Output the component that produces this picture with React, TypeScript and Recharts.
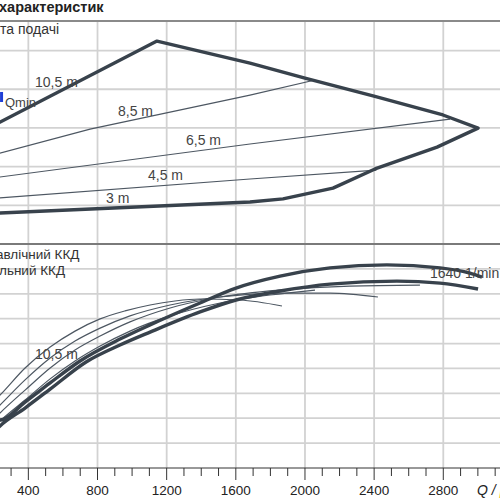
import React from 'react';
import { LineChart, Line, XAxis, YAxis, CartesianGrid } from 'recharts';

// ---------- axes ----------
const Q_DOMAIN: [number, number] = [236, 3128];
const Q_GRID = [400, 800, 1200, 1600, 2000, 2400, 2800];
const Q_TICKS = [300, 400, 500, 600, 700, 800, 900, 1000, 1100, 1200, 1300, 1400, 1500, 1600, 1700, 1800, 1900, 2000, 2100, 2200, 2300, 2400, 2500, 2600, 2700, 2800, 2900, 3000, 3100];
const H_DOMAIN: [number, number] = [0, 11.58];
const H_GRID = [2, 4, 6, 8, 10];
const ETA_DOMAIN: [number, number] = [0, 90];
const ETA_GRID = [10, 20, 30, 40, 50, 60, 70, 80];

// ---------- upper: operating range (Q, H) ----------
const rangeEnvelope: [number, number][] = [
  [207, 6.17], [1144, 10.49], [1682, 9.35], [2000, 8.58], [2399, 7.65], [2798, 6.67], [3001, 5.99],
  [2764, 5.01], [2405, 3.88], [2162, 2.89], [1873, 2.33], [1682, 2.17], [959, 1.89], [207, 1.59],
];
const line85: [number, number][] = [[207, 4.63], [757, 5.94], [1682, 7.7], [2058, 8.48]];
const line65: [number, number][] = [[207, 3.43], [1682, 5.17], [2839, 6.46]];
const line45: [number, number][] = [[207, 2.36], [1682, 3.36], [2413, 3.82]];
const qminMark: [number, number][] = [[245, 7.86], [245, 7.34]];

// ---------- lower: efficiency (Q, %) ----------
const etaHydraulic: [number, number][] = [
  [207, 21.3], [236, 19.3], [381, 26.5], [526, 34.2], [699, 43.0], [930, 51.8], [1104, 57.5], [1393, 66.3], [1601, 72.3],
  [1856, 77.1], [2145, 80.4], [2474, 81.6], [2781, 80.4], [2954, 78.3], [3024, 76.7],
];
const etaTotal: [number, number][] = [
  [207, 14.9], [236, 16.9], [381, 24.1], [526, 31.7], [734, 42.6], [930, 49.4], [1104, 54.6], [1393, 62.7], [1601, 67.5],
  [1856, 71.1], [2145, 73.9], [2532, 75.1], [2781, 74.3], [3001, 71.9],
];
const etaT1: [number, number][] = [
  [207, 27.3], [236, 29.3], [381, 40.2], [526, 48.6], [670, 55.0], [815, 59.9], [959, 63.1], [1104, 65.5],
  [1248, 67.1], [1393, 67.9], [1624, 67.5], [1867, 65.1],
];
const etaT2: [number, number][] = [
  [207, 23.3], [236, 25.3], [381, 35.4], [526, 44.2], [670, 51.0], [815, 56.2], [988, 61.1], [1220, 65.5],
  [1509, 68.7], [1856, 70.3], [2145, 70.3], [2422, 68.7],
];
const etaT3: [number, number][] = [
  [207, 20.1], [236, 22.1], [381, 31.3], [526, 40.2], [670, 47.4], [815, 53.0], [988, 58.7], [1220, 64.3],
  [1509, 68.7], [1856, 71.5], [2260, 73.1], [2665, 73.5],
];
const etaT4: [number, number][] = [
  [207, 17.0], [236, 18.9], [381, 27.3], [526, 35.8], [670, 43.0], [815, 49.0], [988, 55.0], [1220, 61.1],
  [1509, 66.3], [1798, 69.5], [2058, 71.5],
];

const toData = (pts: [number, number][]) => pts.map(([q, v]) => ({ q, v }));

const THICK = '#38424c';
const THIN = '#4d5762';
const GRID = '#d2d2d2';
const FONT = '"Liberation Sans", Arial, sans-serif';

const XTick = (props: any) => {
  const { x, y, payload } = props;
  const v = payload.value as number;
  const major = v % 400 === 0;
  return (
    <g>
      <line x1={x} x2={x} y1={y} y2={y + (major ? 12 : 8)} stroke="#333" strokeWidth={1} />
      {major && (
        <text x={x} y={y + 27} textAnchor="middle" fontSize={13.5} fill="#222" fontFamily={FONT}>
          {v}
        </text>
      )}
    </g>
  );
};

const series = (pts: [number, number][], thick: boolean, key: string, type: 'linear' | 'monotone') => (
  <Line
    key={key}
    data={toData(pts)}
    dataKey="v"
    type={type}
    stroke={thick ? THICK : THIN}
    strokeWidth={thick ? 3.4 : 1.2}
    dot={false}
    activeDot={false}
    isAnimationActive={false}
    strokeLinejoin="round"
  />
);

export default function App() {
  return (
    <div style={{ position: 'absolute', left: 0, top: 0, width: 500, height: 500, background: '#fff', overflow: 'hidden', fontFamily: FONT }}>
      <div style={{ position: 'absolute', left: 0, top: 20 }}>
        <LineChart width={500} height={224} margin={{ top: 0, right: 0, bottom: 0, left: 0 }}>
          <CartesianGrid stroke={GRID} strokeWidth={1.8} horizontalValues={H_GRID} verticalValues={Q_GRID} />
          <XAxis type="number" dataKey="q" domain={Q_DOMAIN} allowDataOverflow hide />
          <YAxis type="number" domain={H_DOMAIN} allowDataOverflow hide />
          {series(line85, false, 'l85', 'linear')}
          {series(line65, false, 'l65', 'linear')}
          {series(line45, false, 'l45', 'linear')}
          {series(rangeEnvelope, true, 'env', 'linear')}
          <Line data={toData(qminMark)} dataKey="v" type="linear" stroke="#1e3ed6" strokeWidth={3} dot={false} activeDot={false} isAnimationActive={false} />
        </LineChart>
      </div>
      <div style={{ position: 'absolute', left: 0, top: 244 }}>
        <LineChart width={500} height={256} margin={{ top: 0, right: 0, bottom: 0, left: 0 }}>
          <CartesianGrid stroke={GRID} strokeWidth={1.8} horizontalValues={ETA_GRID} verticalValues={Q_GRID} />
          <XAxis
            type="number"
            dataKey="q"
            domain={Q_DOMAIN}
            allowDataOverflow
            ticks={Q_TICKS}
            interval={0}
            height={32}
            tickSize={0}
            tickMargin={0}
            tickLine={false}
            axisLine={{ stroke: '#333', strokeWidth: 1 }}
            tick={(p: any) => <XTick {...p} />}
          />
          <YAxis type="number" domain={ETA_DOMAIN} allowDataOverflow hide />
          {series(etaT1, false, 't1', 'monotone')}
          {series(etaT2, false, 't2', 'monotone')}
          {series(etaT3, false, 't3', 'monotone')}
          {series(etaT4, false, 't4', 'monotone')}
          {series(etaTotal, true, 'tot', 'monotone')}
          {series(etaHydraulic, true, 'hyd', 'monotone')}
        </LineChart>
      </div>
      <div style={{ position: 'absolute', left: 0, top: 19.5, width: 500, height: 2, background: '#8a8a8a' }} />
      <div style={{ position: 'absolute', left: 0, top: 243, width: 500, height: 2, background: '#7a7a7a' }} />
      <svg width={500} height={500} style={{ position: 'absolute', left: 0, top: 0, pointerEvents: 'none' }} fontFamily={FONT}>
        <text x={-1} y={12} fontSize={14.5} fontWeight="bold" fill="#222">характеристик</text>
        <text x={0} y={33.5} fontSize={14} fill="#333">та подачі</text>
        <text x={35} y={87} fontSize={14} fill="#444">10,5 m</text>
        <text x={5} y={107} fontSize={13} fill="#444">Qmin</text>
        <text x={118} y={116} fontSize={14} fill="#444">8,5 m</text>
        <text x={186} y={145} fontSize={14} fill="#444">6,5 m</text>
        <text x={148} y={180} fontSize={14} fill="#444">4,5 m</text>
        <text x={106} y={203} fontSize={14} fill="#444">3 m</text>
        <text x={-4} y={259} fontSize={13.5} fill="#333">авлічний ККД</text>
        <text x={-1} y={275} fontSize={13.5} fill="#333">льний ККД</text>
        <text x={35} y={359} fontSize={14} fill="#444">10,5 m</text>
        <text x={430} y={278} fontSize={14} fill="#444">1640  1/min</text>
        <text x={477} y={495} fontSize={14} fontStyle="italic" fill="#222">Q / <tspan fill="#f0c040">[</tspan></text>
      </svg>
    </div>
  );
}
